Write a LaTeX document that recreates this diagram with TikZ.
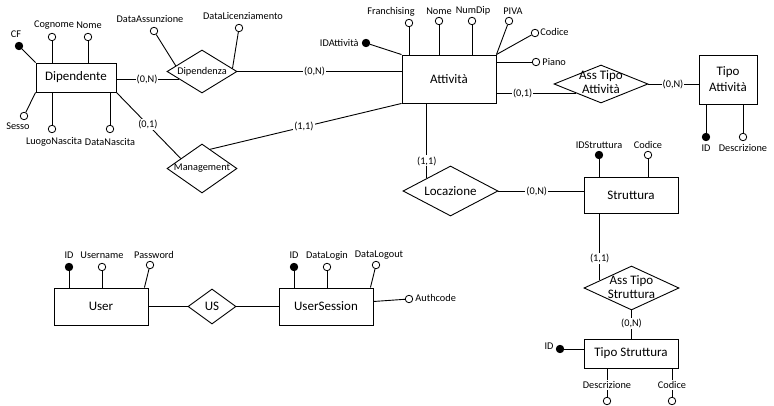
\documentclass[tikz,border=0pt]{standalone}
\usepackage{fontspec}
\setmainfont{Carlito}
\usetikzlibrary{shapes.geometric,calc}
\begin{document}
\begin{tikzpicture}[x=1pt,y=-1pt,
  line width=0.9pt,
  ent/.style={draw, rectangle, inner sep=0pt, align=center, font=\fontsize{13}{16}\selectfont},
  rel/.style={draw, diamond, inner sep=0pt, fill=white},
  attro/.style={circle, draw, fill=white, inner sep=0pt, minimum size=7.5pt, line width=0.8pt},
  attrk/.style={attro, fill=black},
  lbl/.style={inner sep=0pt, font=\fontsize{10.3}{12}\selectfont},
  card/.style={fill=white, inner sep=1pt, font=\fontsize{10.3}{12}\selectfont},
  big/.style={font=\fontsize{13}{15}\selectfont},
  sm/.style={font=\fontsize{10.3}{12}\selectfont}
]
\useasboundingbox (0,0) rectangle (774,406);

% ---------- entities ----------
\node[ent, minimum width=80pt, minimum height=29pt] (dip) at (76,77.5) {Dipendente};
\node[ent, minimum width=94pt, minimum height=48pt] (att) at (449,79) {Attività};
\node[ent, minimum width=58pt, minimum height=49pt] (tatt) at (728,79.5) {Tipo\\Attività};
\node[ent, minimum width=94pt, minimum height=36pt] (str) at (631,195) {Struttura};
\node[ent, minimum width=94pt, minimum height=29pt] (tstr) at (631,353.5) {Tipo Struttura};
\node[ent, minimum width=94pt, minimum height=37pt] (user) at (101,306.5) {User};
\node[ent, minimum width=94pt, minimum height=37pt] (usess) at (326,306.5) {UserSession};

% ---------- relationships ----------
\node[rel, minimum width=70pt, minimum height=43pt, sm] (dipz) at (202,71.5) {\makebox[0pt]{Dipendenza}};
\node[rel, minimum width=70pt, minimum height=49pt, sm] (mgmt) at (202,168.5) {\makebox[0pt]{Management}};
\node[rel, minimum width=94pt, minimum height=38pt, big] (asta) at (601,84) {\makebox[0pt]{\begin{tabular}{@{}c@{}}Ass Tipo\\[-1pt]Attività\end{tabular}}};
\node[rel, minimum width=95pt, minimum height=50pt, big] (loc) at (450.5,191) {\makebox[0pt]{Locazione}};
\node[rel, minimum width=95pt, minimum height=44pt, big] (asts) at (631.5,288) {\makebox[0pt]{\begin{tabular}{@{}c@{}}Ass Tipo\\[-1pt]Struttura\end{tabular}}};
\node[rel, minimum width=48pt, minimum height=35pt, big] (us) at (212,306.5) {\makebox[0pt]{US}};

% ---------- Dipendente attributes ----------
\node[attrk] (cf) at (19,46) {};
\node[attro] (cog) at (52,37) {};
\node[attro] (nomed) at (88,37) {};
\node[attro] (sesso) at (24,116) {};
\node[attro] (luogo) at (52,129) {};
\node[attro] (datan) at (110,129) {};
\node[lbl] (cfL) at (16,34) {CF};
\node[lbl] (cogL) at (54,25) {Cognome};
\node[lbl] (nomedL) at (89,25) {Nome};
\node[lbl] (sessoL) at (18,126) {Sesso};
\node[lbl] (luogoL) at (54,142) {LuogoNascita};
\node[lbl] (datanL) at (110,142) {DataNascita};
\draw (cf) -- (dip.north west);
\draw (cog) -- (cog |- dip.north);
\draw (nomed) -- (nomed |- dip.north);
\draw (sesso) -- (dip.south west);
\draw (luogo) -- (luogo |- dip.south);
\draw (datan) -- (datan |- dip.south);

% ---------- Dipendenza ----------
\node[attro] (dass) at (154,31) {};
\node[attro] (dlic) at (239,28) {};
\node[lbl] (dassL) at (150,19) {DataAssunzione};
\node[lbl] (dlicL) at (243,16) {DataLicenziamento};
\draw (dass) -- ($(dipz.west)!0.26!(dipz.north)$);
\draw (dlic) -- ($(dipz.north)!0.86!(dipz.east)$);
\coordinate (dzin) at ($(dipz.west)!0.35!(dipz.south)$);
\draw (dip.east |- dzin) -- node[card, pos=0.49] {(0,N)} (dzin);
\draw (dipz.east) -- node[card, pos=0.47] {(0,N)} (dipz.east -| att.west);

% ---------- Management ----------
\coordinate (mgin) at ($(mgmt.west)!0.4!(mgmt.north)$);
\coordinate (mgout) at ($(mgmt.north)!0.23!(mgmt.east)$);
\draw (dip.south east) -- node[card, pos=0.49] {(0,1)} (mgin);
\draw (mgout) -- node[card, pos=0.49] {(1,1)} (att.south west);

% ---------- Attività attributes ----------
\node[attrk] (idatt) at (366,43) {};
\node[attro] (fran) at (409,23) {};
\node[attro] (nomea) at (439,21) {};
\node[attro] (numd) at (472,21) {};
\node[attro] (piva) at (509,21) {};
\node[attro] (coda) at (535,33) {};
\node[attro] (piano) at (536,62) {};
\node[lbl, anchor=east] (idattL) at (359,43) {IDAttività};
\node[lbl] (franL) at (391,12) {Franchising};
\node[lbl] (nomeaL) at (439,11) {Nome};
\node[lbl] (numdL) at (473,11) {NumDip};
\node[lbl] (pivaL) at (513,11) {PIVA};
\node[lbl, anchor=west] (codaL) at (540,32) {Codice};
\node[lbl, anchor=west] (pianoL) at (542,62) {Piano};
\draw (idatt) -- (att.north west);
\draw (fran) -- (fran |- att.north);
\draw (nomea) -- (nomea |- att.north);
\draw (numd) -- (numd |- att.north);
\draw (piva) -- (att.north east);
\draw (coda) -- (att.north east);
\draw (piano) -- (att.east |- piano);

% ---------- Ass Tipo Attività ----------
\coordinate (astain) at ($(asta.west)!0.47!(asta.south)$);
\draw (att.east |- astain) -- node[card, pos=0.33] {(0,1)} (astain);
\draw (asta.east) -- node[card, pos=0.49] {(0,N)} (asta.east -| tatt.west);
\node[attrk] (idta) at (706,137) {};
\node[attro] (desta) at (743,137) {};
\node[lbl] (idtaL) at (706,148) {ID};
\node[lbl] (destaL) at (743,148) {Descrizione};
\draw (idta) -- (idta |- tatt.south);
\draw (desta) -- (desta |- tatt.south);

% ---------- Locazione ----------
\coordinate (locin) at ($(loc.west)!0.505!(loc.north)$);
\draw (locin |- att.south) -- node[card, pos=0.77] {(1,1)} (locin);
\draw (loc.east) -- node[card, pos=0.45] {(0,N)} (loc.east -| str.west);

% ---------- Struttura ----------
\node[attrk] (idstr) at (599,155) {};
\node[attro] (codstr) at (648,155) {};
\node[lbl] (idstrL) at (599,145) {IDStruttura};
\node[lbl] (codstrL) at (648,145) {Codice};
\draw (idstr) -- (idstr |- str.north);
\draw (codstr) -- (codstr |- str.north);
\coordinate (astsin) at ($(asts.west)!0.337!(asts.north)$);
\draw (astsin |- str.south) -- node[card, pos=0.67] {(1,1)} (astsin);
\draw (asts.south) -- node[card, pos=0.48] {(0,N)} (asts.south |- tstr.north);

% ---------- Tipo Struttura ----------
\node[attrk] (idts) at (560,349) {};
\node[attro] (dests) at (607,401) {};
\node[attro] (codts) at (672,401) {};
\node[lbl] (idtsL) at (549,346) {ID};
\draw (idts) -- (tstr.west |- idts);
\draw (dests) -- (dests |- tstr.south);
\draw (codts) -- (codts |- tstr.south);
\node[lbl, fill=white, inner sep=1pt] (destsL) at (607,385) {Descrizione};
\node[lbl, fill=white, inner sep=1pt] (codtsL) at (672,385) {Codice};

% ---------- User ----------
\node[attrk] (idu) at (69,267) {};
\node[attro] (uname) at (102,267) {};
\node[attro] (pwd) at (150,265) {};
\node[lbl] (iduL) at (69,255) {ID};
\node[lbl] (unameL) at (102,255) {Username};
\node[lbl] (pwdL) at (154,255) {Password};
\draw (idu) -- (idu |- user.north);
\draw (uname) -- (uname |- user.north);
\draw (pwd) -- ([xshift=-4pt]user.north east);
\draw (user.east) -- (us.west);
\draw (us.east) -- (usess.west);

% ---------- UserSession ----------
\node[attrk] (idus) at (294,267) {};
\node[attro] (dlog) at (327,267) {};
\node[attro] (dlout) at (376,265) {};
\node[attro] (auth) at (409,299) {};
\node[lbl] (idusL) at (294,255) {ID};
\node[lbl] (dlogL) at (327,256) {DataLogin};
\node[lbl] (dloutL) at (379,255) {DataLogout};
\node[lbl, anchor=west] (authL) at (415,298) {Authcode};
\draw (idus) -- (idus |- usess.north);
\draw (dlog) -- (dlog |- usess.north);
\draw (dlout) -- ([xshift=-3pt]usess.north east);
\draw (auth) -- ([yshift=5pt]usess.east);
\end{tikzpicture}
\end{document}
